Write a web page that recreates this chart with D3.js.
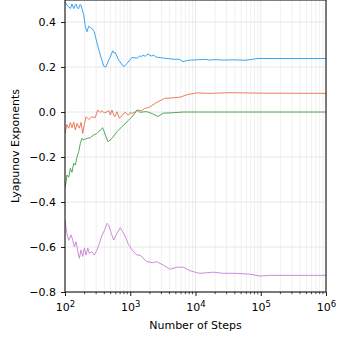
<!DOCTYPE html>
<html>
<head>
<meta charset="utf-8">
<script src="https://cdn.jsdelivr.net/npm/d3@7"></script>
<style>
  body { margin: 0; background: #fff; }
  text { font-family: "DejaVu Sans", sans-serif; }
</style>
</head>
<body>
<div id="chart"></div>
<script>
// values (steps on a log axis)
const blueSteps = [100, 104, 107, 114, 121, 128, 136, 142, 148, 155, 162, 169, 176, 194, 205, 217, 231, 245, 259, 281, 309, 348, 392, 425, 467, 495, 538, 565, 590, 665, 794, 892, 1064, 1269, 1410, 1476, 1568, 1700, 1871, 2102, 2300, 2507, 2900, 3373, 4000, 4800, 5600, 6434, 7500, 8623, 10430, 13840, 16680, 20000, 26680, 40000, 57370, 90760, 1000000]
const blueValues = [0.49, 0.482, 0.475, 0.468, 0.46, 0.48, 0.46, 0.472, 0.48, 0.462, 0.46, 0.477, 0.475, 0.43, 0.38, 0.357, 0.382, 0.375, 0.372, 0.357, 0.307, 0.253, 0.204, 0.201, 0.231, 0.245, 0.272, 0.262, 0.264, 0.231, 0.201, 0.216, 0.243, 0.239, 0.25, 0.246, 0.253, 0.248, 0.258, 0.249, 0.252, 0.244, 0.242, 0.239, 0.237, 0.234, 0.235, 0.224, 0.229, 0.231, 0.232, 0.234, 0.231, 0.233, 0.231, 0.232, 0.23, 0.238, 0.238]

const orangeSteps = [100, 107, 114, 121, 128, 136, 144, 153, 166, 176, 187, 198, 210, 231, 259, 291, 317, 345, 369, 399, 440, 472, 495, 525, 549, 578, 627, 680, 747, 800, 840, 900, 947, 1000, 1064, 1195, 1315, 1476, 1665, 1900, 2102, 2400, 2662, 2857, 3373, 4066, 5788, 7674, 10430, 16680, 33800, 97390, 1000000]
const orangeValues = [-0.095, -0.055, -0.072, -0.046, -0.07, -0.044, -0.08, -0.05, -0.072, -0.046, -0.095, -0.055, -0.021, -0.033, -0.021, -0.025, 0.009, -0.002, 0.006, -0.004, 0.001, 0.006, -0.013, 0.009, -0.008, -0.021, 0.001, -0.028, -0.016, -0.006, -0.001, -0.01, -0.013, -0.002, -0.006, 0.001, 0.009, 0.006, 0.016, 0.02, 0.027, 0.038, 0.046, 0.05, 0.061, 0.062, 0.066, 0.078, 0.085, 0.083, 0.086, 0.084, 0.083]

const greenSteps = [100, 104, 107, 114, 121, 128, 136, 144, 153, 162, 172, 182, 194, 217, 244, 275, 309, 348, 378, 415, 456, 525, 627, 747, 947, 1129, 1269, 1410, 1787, 2200, 2662, 3210, 4066, 6434, 1000000]
const greenValues = [-0.335, -0.31, -0.28, -0.29, -0.25, -0.268, -0.228, -0.236, -0.199, -0.176, -0.139, -0.117, -0.124, -0.117, -0.114, -0.102, -0.095, -0.08, -0.07, -0.102, -0.132, -0.117, -0.087, -0.065, -0.036, -0.013, 0.009, -0.001, 0.002, -0.008, -0.02, -0.005, -0.004, 0.0, 0.0]

const purpleSteps = [100, 107, 114, 124, 131, 139, 148, 157, 166, 176, 187, 198, 210, 223, 236, 259, 281, 309, 336, 369, 406, 440, 467, 512, 558, 605, 649, 704, 766, 840, 924, 1064, 1269, 1410, 1787, 2256, 2507, 3210, 4066, 5151, 6501, 8235, 10430, 11720, 18740, 26680, 42800, 68430, 97390, 138700, 1000000]
const purpleValues = [-0.48, -0.541, -0.57, -0.546, -0.569, -0.599, -0.577, -0.621, -0.65, -0.613, -0.642, -0.605, -0.636, -0.605, -0.627, -0.621, -0.636, -0.613, -0.584, -0.547, -0.524, -0.495, -0.502, -0.539, -0.569, -0.547, -0.532, -0.514, -0.532, -0.554, -0.584, -0.613, -0.636, -0.636, -0.665, -0.67, -0.665, -0.68, -0.699, -0.69, -0.69, -0.705, -0.714, -0.717, -0.712, -0.717, -0.717, -0.721, -0.729, -0.726, -0.726]

const yTicks = [-0.8, -0.6, -0.4, -0.2, 0.0, 0.2, 0.4]
const xTicks = [1e2, 1e3, 1e4, 1e5, 1e6]

const series = [
  { steps: blueSteps, values: blueValues, color: '#1f9cf2' },
  { steps: orangeSteps, values: orangeValues, color: '#e8714b' },
  { steps: greenSteps, values: greenValues, color: '#3c9f4a' },
  { steps: purpleSteps, values: purpleValues, color: '#c97ed8' }
]

const width = 340
const height = 340
const margin = { top: 0, right: 14, bottom: 48, left: 65 }
const plotW = width - margin.left - margin.right
const plotH = height - margin.top - margin.bottom

const svg = d3.select('#chart').append('svg')
  .attr('width', width)
  .attr('height', height)

const g = svg.append('g')
  .attr('transform', `translate(${margin.left},${margin.top})`)

const x = d3.scaleLog().domain([1e2, 1e6]).range([0, plotW])
const y = d3.scaleLinear().domain([-0.8, 0.498]).range([plotH, 0])

// minor ticks 2..9 in every decade
const minorTicks = x.ticks().filter(t => !xTicks.includes(t))

// grid
g.append('g').selectAll('line.minor')
  .data(minorTicks)
  .enter().append('line')
  .attr('x1', d => x(d)).attr('x2', d => x(d))
  .attr('y1', 0).attr('y2', plotH)
  .attr('stroke', '#ececec').attr('stroke-width', 0.8)

g.append('g').selectAll('line.major')
  .data(xTicks)
  .enter().append('line')
  .attr('x1', d => x(d)).attr('x2', d => x(d))
  .attr('y1', 0).attr('y2', plotH)
  .attr('stroke', '#e2e2e2').attr('stroke-width', 0.8)

g.append('g').selectAll('line')
  .data(yTicks)
  .enter().append('line')
  .attr('x1', 0).attr('x2', plotW)
  .attr('y1', d => y(d)).attr('y2', d => y(d))
  .attr('stroke', '#e2e2e2').attr('stroke-width', 0.8)

// lines
g.append('clipPath').attr('id', 'clip')
  .append('rect').attr('width', plotW).attr('height', plotH)

const line = d3.line()
  .x(d => x(d[0]))
  .y(d => y(d[1]))

g.append('g').attr('clip-path', 'url(#clip)')
  .selectAll('path')
  .data(series)
  .enter().append('path')
  .attr('fill', 'none')
  .attr('stroke', d => d.color)
  .attr('stroke-width', 0.9)
  .attr('d', d => line(d.steps.map((s, i) => [s, d.values[i]])))

// axes
const xAxis = g.append('g')
  .attr('transform', `translate(0,${plotH})`)
  .call(d3.axisBottom(x).tickValues(xTicks).tickSize(4).tickPadding(4).tickFormat(''))

xAxis.selectAll('.tick text').remove()
xAxis.selectAll('.tick')
  .append('text')
  .attr('fill', '#000')
  .attr('y', 18.5)
  .attr('text-anchor', 'middle')
  .style('font-size', '11px')
  .each(function (d) {
    const t = d3.select(this)
    t.append('tspan').text('10')
    t.append('tspan')
      .attr('dy', '-0.45em')
      .style('font-size', '8.5px')
      .text(Math.round(Math.log10(d)))
  })

g.append('g')
  .attr('transform', `translate(0,${plotH})`)
  .selectAll('line')
  .data(minorTicks)
  .enter().append('line')
  .attr('x1', d => x(d)).attr('x2', d => x(d))
  .attr('y1', 0).attr('y2', 2.2)
  .attr('stroke', '#000').attr('stroke-width', 0.7)

const yAxis = g.append('g')
  .call(d3.axisLeft(y).tickValues(yTicks).tickSize(4).tickPadding(5).tickFormat(d3.format('.1f')))

yAxis.selectAll('text').style('font-size', '11px').attr('fill', '#000')
g.selectAll('.domain').remove()
g.selectAll('.tick line').attr('stroke', '#000').attr('stroke-width', 0.9)

// frame
g.append('rect')
  .attr('width', plotW).attr('height', plotH)
  .attr('fill', 'none')
  .attr('stroke', '#000')
  .attr('stroke-width', 1)

// labels
svg.append('text')
  .attr('x', margin.left + plotW / 2)
  .attr('y', 329)
  .attr('text-anchor', 'middle')
  .style('font-size', '11px')
  .text('Number of Steps')

svg.append('text')
  .attr('transform', `translate(19,${margin.top + plotH / 2}) rotate(-90)`)
  .attr('text-anchor', 'middle')
  .style('font-size', '11px')
  .text('Lyapunov Exponents')
</script>
</body>
</html>
